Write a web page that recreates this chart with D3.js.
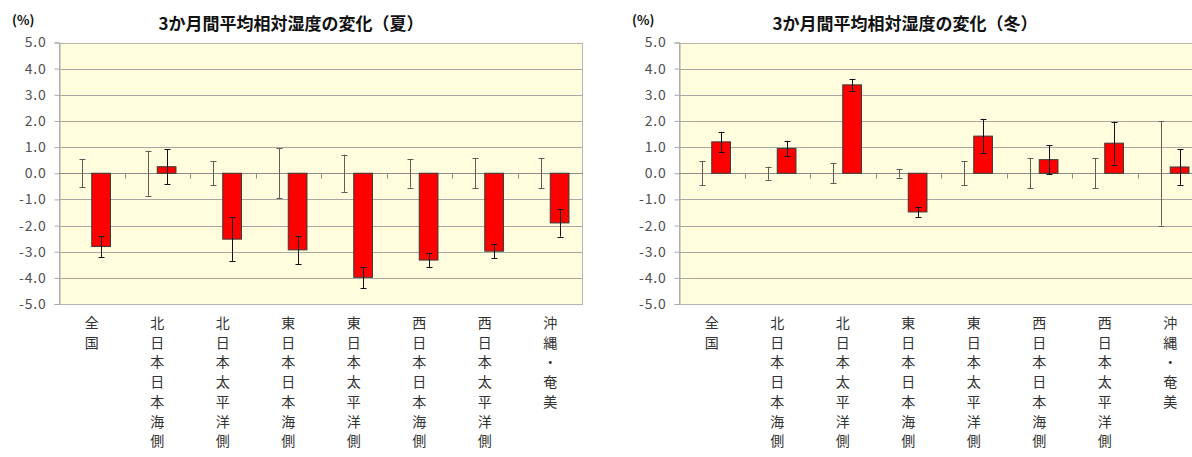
<!DOCTYPE html>
<html>
<head>
<meta charset="utf-8">
<script src="https://cdn.jsdelivr.net/npm/d3@7"></script>
<style>
  html, body { margin: 0; padding: 0; background: #fff; }
  svg { display: block; }
</style>
</head>
<body>
<svg id="chart" width="1192" height="457"></svg>
<script>
// Regions shown along the x axis
const categories = ["全国", "北日本日本海側", "北日本太平洋側", "東日本日本海側", "東日本太平洋側", "西日本日本海側", "西日本太平洋側", "沖縄・奄美"];

// Y axis ticks (%)
const yTicks = [5.0, 4.0, 3.0, 2.0, 1.0, 0.0, -1.0, -2.0, -3.0, -4.0, -5.0];

// Summer: change of 3-month mean relative humidity and its error range
const summerChange = [-2.8, 0.25, -2.52, -2.93, -3.98, -3.32, -2.98, -1.9];
const summerChangeErr = [0.4, 0.67, 0.83, 0.54, 0.41, 0.28, 0.28, 0.52];
// Summer: natural variability range drawn around zero
const summerBase = [0, 0, 0, 0, 0, 0, 0, 0];
const summerBaseErr = [0.53, 0.86, 0.46, 0.96, 0.71, 0.55, 0.57, 0.57];

// Winter: change of 3-month mean relative humidity and its error range
const winterChange = [1.2, 0.95, 3.38, -1.48, 1.42, 0.52, 1.15, 0.24];
const winterChangeErr = [0.38, 0.29, 0.23, 0.19, 0.66, 0.55, 0.82, 0.68];
// Winter: natural variability range drawn around zero
const winterBase = [0, 0, 0, 0, 0, 0, 0, 0];
const winterBaseErr = [0.46, 0.25, 0.39, 0.17, 0.46, 0.58, 0.58, 2.0];

const svg = d3.select("#chart");
const fmt = d => d.toFixed(1);
const labelFont = "'Noto Sans CJK JP', 'Noto Sans', sans-serif";

function drawPanel(opts) {
  const { left, right, top, bottom, title, titleX, base, baseErr, change, changeErr } = opts;
  const g = svg.append("g");

  const y = d3.scaleLinear().domain([-5, 5]).range([bottom, top]);
  const x = d3.scaleBand().domain(categories).range([left, right]).padding(0);
  const barW = x.bandwidth() / 3.5;            // two bars + 150% gap
  const xs = d3.scaleBand().domain(["base", "change"]).range([0, barW * 2]);
  const groupStart = c => x(c) + (x.bandwidth() - barW * 2) / 2;

  // plot background
  g.append("rect")
    .attr("x", left).attr("y", top)
    .attr("width", right - left).attr("height", bottom - top)
    .attr("fill", "#FFFDDE");

  // horizontal gridlines
  g.append("g").selectAll("line").data(yTicks).join("line")
    .attr("x1", left).attr("x2", right)
    .attr("y1", d => Math.round(y(d)) + 0.5).attr("y2", d => Math.round(y(d)) + 0.5)
    .attr("stroke", "#A8A8A0").attr("stroke-width", 1);

  // plot border
  g.append("rect")
    .attr("x", left + 0.5).attr("y", Math.round(top) + 0.5)
    .attr("width", right - left - 1).attr("height", Math.round(bottom) - Math.round(top))
    .attr("fill", "none").attr("stroke", "#B4B4B0");

  // y axis
  const yAxis = d3.axisLeft(y).tickValues(yTicks).tickFormat(fmt).tickSize(5).tickPadding(8);
  const ya = g.append("g").attr("transform", `translate(${left + 0.5},0)`).call(yAxis);
  ya.select(".domain").attr("stroke", "#A8A8A8");
  ya.selectAll(".tick line").attr("stroke", "#A8A8A8");
  ya.selectAll(".tick text")
    .attr("fill", "#505050")
    .style("font-family", labelFont)
    .style("font-size", "14px")
    .style("letter-spacing", "0.8px");

  // zero line with category separators
  const zy = Math.round(y(0)) + 0.5;
  g.append("line")
    .attr("x1", left).attr("x2", right).attr("y1", zy).attr("y2", zy)
    .attr("stroke", "#8C8C84");
  g.append("g").selectAll("line").data(categories.slice(1)).join("line")
    .attr("x1", d => Math.round(x(d)) + 0.5).attr("x2", d => Math.round(x(d)) + 0.5)
    .attr("y1", zy).attr("y2", zy + 5)
    .attr("stroke", "#8C8C84");

  // change bars
  g.append("g").selectAll("rect").data(categories).join("rect")
    .attr("x", c => groupStart(c) + xs("change"))
    .attr("width", xs.bandwidth())
    .attr("y", (c, i) => y(Math.max(0, change[i])))
    .attr("height", (c, i) => Math.abs(y(change[i]) - y(0)))
    .attr("fill", "#FF0000")
    .attr("stroke", "#3A3A3A").attr("stroke-width", 1);

  // error bars
  function errorBars(series, vals, errs, color) {
    const eg = g.append("g");
    categories.forEach((c, i) => {
      const cx = Math.round(groupStart(c) + xs(series) + xs.bandwidth() / 2) + 0.5;
      const y1 = y(vals[i] + errs[i]), y2 = y(vals[i] - errs[i]);
      eg.append("line").attr("x1", cx).attr("x2", cx).attr("y1", y1).attr("y2", y2)
        .attr("stroke", color);
      [y1, y2].forEach(v => {
        eg.append("line").attr("x1", cx - 3).attr("x2", cx + 3)
          .attr("y1", Math.round(v) + 0.5).attr("y2", Math.round(v) + 0.5)
          .attr("stroke", color);
      });
    });
  }
  errorBars("base", base, baseErr, "#5E5E58");
  errorBars("change", change, changeErr, "#111");

  // vertical category labels, one character per line
  const lab = g.append("g");
  categories.forEach(c => {
    const cx = x(c) + x.bandwidth() / 2;
    const t = lab.append("text")
      .attr("x", cx).attr("y", bottom + 24)
      .attr("text-anchor", "middle")
      .attr("fill", "#333")
      .style("font-family", labelFont)
      .style("font-size", "14px");
    Array.from(c).forEach((ch, k) => {
      t.append("tspan").attr("x", cx).attr("y", bottom + 24 + k * 19.7).text(ch);
    });
  });

  // title and unit
  g.append("text")
    .attr("x", titleX).attr("y", 30)
    .attr("text-anchor", "middle")
    .attr("fill", "#111")
    .style("font-family", labelFont)
    .style("font-size", "17px")
    .style("font-weight", "bold")
    .text(title);
  g.append("text")
    .attr("x", left - 47).attr("y", 25)
    .attr("fill", "#111")
    .style("font-family", labelFont)
    .style("font-size", "13px")
    .style("font-weight", "bold")
    .text("(%)");
}

drawPanel({
  left: 59, right: 583, top: 42.5, bottom: 304,
  title: "3か月間平均相対湿度の変化（夏）", titleX: 291,
  base: summerBase, baseErr: summerBaseErr,
  change: summerChange, changeErr: summerChangeErr
});

drawPanel({
  left: 679, right: 1203, top: 42.5, bottom: 304,
  title: "3か月間平均相対湿度の変化（冬）", titleX: 905,
  base: winterBase, baseErr: winterBaseErr,
  change: winterChange, changeErr: winterChangeErr
});
</script>
</body>
</html>
